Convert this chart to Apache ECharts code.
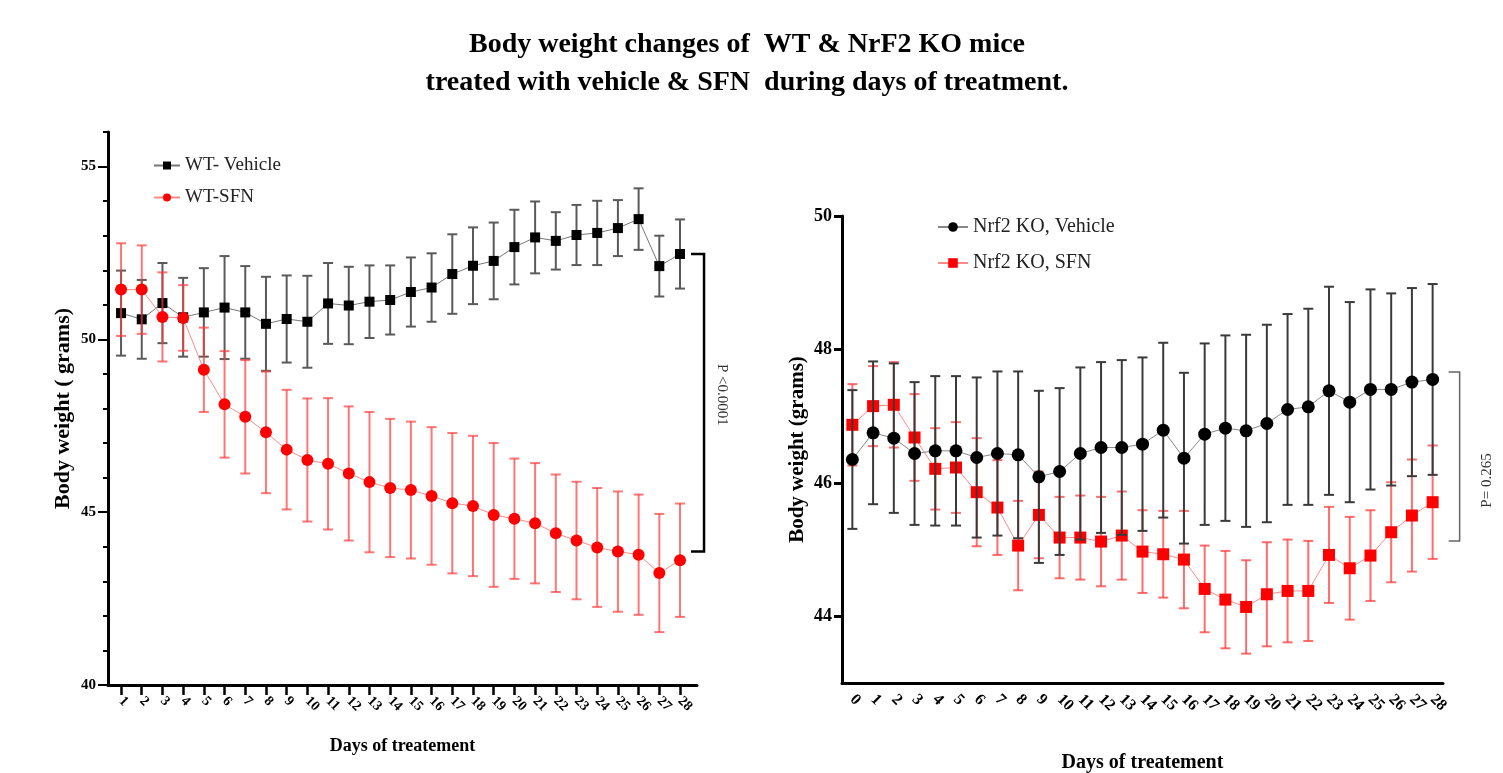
<!DOCTYPE html>
<html>
<head>
<meta charset="utf-8">
<script src="https://cdn.jsdelivr.net/npm/echarts@6/dist/echarts.min.js"></script>
<style>
  html, body { margin: 0; padding: 0; background: #fff; }
  #main { width: 1503px; height: 773px; }
</style>
</head>
<body>
<div id="main"></div>
<script>
// 左图: WT 小鼠 (第1-28天)
var daysWT = [1,2,3,4,5,6,7,8,9,10,11,12,13,14,15,16,17,18,19,20,21,22,23,24,25,26,27,28];
var wtVehicleMean = [50.76,50.58,51.05,50.64,50.78,50.92,50.78,50.45,50.59,50.51,51.04,50.98,51.09,51.14,51.37,51.50,51.89,52.13,52.27,52.67,52.95,52.85,53.02,53.08,53.22,53.48,52.12,52.47];
var wtVehicleSd   = [1.23,1.14,1.16,1.14,1.28,1.49,1.34,1.36,1.26,1.33,1.17,1.12,1.05,1.00,1.00,0.99,1.15,1.11,1.11,1.08,1.04,0.83,0.87,0.93,0.81,0.89,0.88,1.00];
var wtSfnMean = [51.44,51.44,50.65,50.62,49.12,48.12,47.76,47.31,46.81,46.51,46.40,46.12,45.87,45.70,45.64,45.47,45.26,45.18,44.92,44.81,44.68,44.39,44.18,43.98,43.86,43.77,43.24,43.61];
var wtSfnSd   = [1.34,1.28,1.29,0.95,1.22,1.54,1.64,1.76,1.73,1.78,1.90,1.94,2.03,2.00,1.98,1.99,2.03,2.03,2.08,1.74,1.74,1.70,1.70,1.72,1.74,1.74,1.71,1.64];

// 右图: Nrf2 KO 小鼠 (第0-28天)
var daysKO = [0,1,2,3,4,5,6,7,8,9,10,11,12,13,14,15,16,17,18,19,20,21,22,23,24,25,26,27,28];
var koVehicleMean = [46.35,46.75,46.67,46.44,46.48,46.48,46.38,46.44,46.42,46.09,46.17,46.44,46.53,46.53,46.58,46.79,46.37,46.73,46.82,46.78,46.89,47.10,47.14,47.38,47.21,47.40,47.40,47.51,47.55];
var koVehicleSd   = [1.04,1.07,1.12,1.07,1.12,1.12,1.20,1.23,1.25,1.29,1.25,1.29,1.28,1.31,1.30,1.31,1.28,1.36,1.39,1.44,1.48,1.43,1.47,1.56,1.50,1.50,1.44,1.41,1.43];
var koSfnMean = [46.87,47.15,47.17,46.68,46.21,46.23,45.86,45.63,45.06,45.52,45.18,45.18,45.12,45.21,44.97,44.93,44.85,44.41,44.25,44.14,44.33,44.38,44.38,44.92,44.72,44.91,45.26,45.51,45.71];
var koSfnSd   = [0.61,0.60,0.64,0.65,0.61,0.68,0.81,0.71,0.67,0.65,0.61,0.63,0.67,0.66,0.62,0.65,0.73,0.65,0.73,0.70,0.78,0.77,0.75,0.72,0.77,0.68,0.75,0.84,0.85];

// y 轴刻度
var wtMajorTicks = [40,45,50,55];
var wtMinorTicks = [40,41,42,43,44,45,46,47,48,49,50,51,52,53,54,55,56];
var koTicks = [44,46,48,50];

// P 值标注 (括号上下端, 数据单位)
var wtBracket = [52.47, 43.86];
var koBracket = [47.66, 45.13];
var wtPText = 'P <0.0001';
var koPText = 'P= 0.265';

var serif = "'Liberation Serif', 'Times New Roman', serif";

function pairs(days, vals) {
	var out = [];
	for (var i = 0; i < days.length; i++) out.push([days[i], vals[i]]);
	return out;
}
function errData(days, mean, sd) {
	var out = [];
	for (var i = 0; i < days.length; i++) out.push([days[i], mean[i] - sd[i], mean[i] + sd[i]]);
	return out;
}
function errorBars(color, width) {
	return function (params, api) {
		var lo = api.coord([api.value(0), api.value(1)]);
		var hi = api.coord([api.value(0), api.value(2)]);
		var hw = 5;
		var st = { stroke: color, lineWidth: width };
		return {
			type: 'group',
			children: [
				{ type: 'line', shape: { x1: lo[0], y1: lo[1], x2: hi[0], y2: hi[1] }, style: st },
				{ type: 'line', shape: { x1: lo[0] - hw, y1: lo[1], x2: lo[0] + hw, y2: lo[1] }, style: st },
				{ type: 'line', shape: { x1: hi[0] - hw, y1: hi[1], x2: hi[0] + hw, y2: hi[1] }, style: st }
			]
		};
	};
}

var axisFont = { color: '#000', fontFamily: serif, fontWeight: 'bold', showMinLabel: true, showMaxLabel: true };

var myChart = echarts.init(document.getElementById('main'));
myChart.setOption({
	animation: false,
	backgroundColor: '#fff',
	title: {
		text: 'Body weight changes of  WT & NrF2 KO mice\ntreated with vehicle & SFN  during days of treatment.',
		left: 742, top: 21, textAlign: 'center',
		textStyle: { fontFamily: serif, fontWeight: 'bold', fontSize: 28, lineHeight: 38, color: '#000' }
	},
	legend: [
		{
			data: ['WT- Vehicle', 'WT-SFN'],
			orient: 'vertical', left: 148, top: 151, itemGap: 13,
			itemWidth: 26, itemHeight: 10,
			textStyle: { fontFamily: serif, fontSize: 19, color: '#222' }
		},
		{
			data: ['Nrf2 KO, Vehicle', 'Nrf2 KO, SFN'],
			orient: 'vertical', left: 932, top: 212, itemGap: 16,
			itemWidth: 30, itemHeight: 12,
			textStyle: { fontFamily: serif, fontSize: 20, color: '#222' }
		}
	],
	grid: [
		{ left: 108, top: 132, width: 589, height: 553, outerBoundsMode: 'none' },
		{ left: 842, top: 216, width: 601, height: 467, outerBoundsMode: 'none' }
	],
	xAxis: [
		{
			type: 'value', gridIndex: 0, min: 0.37, max: 28.82,
			name: 'Days of treatement', nameLocation: 'middle', nameGap: 52,
			nameTextStyle: { fontFamily: serif, fontWeight: 'bold', fontSize: 18, color: '#000' },
			axisLine: { lineStyle: { color: '#000', width: 3 } },
			axisTick: { customValues: daysWT, length: 10, lineStyle: { color: '#000', width: 2.5 } },
			axisLabel: Object.assign({ customValues: daysWT, rotate: -45, fontSize: 14, margin: 14 }, axisFont),
			splitLine: { show: false }
		},
		{
			type: 'category', gridIndex: 1, data: daysKO, boundaryGap: true,
			name: 'Days of treatement', nameLocation: 'middle', nameGap: 70,
			nameTextStyle: { fontFamily: serif, fontWeight: 'bold', fontSize: 20, color: '#000' },
			axisLine: { lineStyle: { color: '#000', width: 3 } },
			axisTick: { alignWithLabel: true, interval: 0, length: 10, lineStyle: { color: '#000', width: 3 } },
			axisLabel: Object.assign({ interval: 0, rotate: -45, fontSize: 16, margin: 14 }, axisFont),
			splitLine: { show: false }
		}
	],
	yAxis: [
		{
			type: 'value', gridIndex: 0, min: 40, max: 56,
			name: 'Body weight ( grams)', nameLocation: 'middle', nameGap: 34,
			nameTextStyle: { fontFamily: serif, fontWeight: 'bold', fontSize: 22, color: '#000' },
			axisLine: { show: true, lineStyle: { color: '#000', width: 3 } },
			axisTick: { show: true, customValues: wtMajorTicks, length: 10, lineStyle: { color: '#000', width: 2 } },
			axisLabel: Object.assign({ customValues: wtMajorTicks, fontSize: 15, margin: 12 }, axisFont),
			splitLine: { show: false }
		},
		{
			type: 'value', gridIndex: 0, min: 40, max: 56, position: 'left',
			axisLine: { show: false },
			axisTick: { show: true, customValues: wtMinorTicks, length: 5, lineStyle: { color: '#000', width: 2 } },
			axisLabel: { show: false },
			splitLine: { show: false }
		},
		{
			type: 'value', gridIndex: 1, min: 43, max: 50,
			name: 'Body weight (grams)', nameLocation: 'middle', nameGap: 34,
			nameTextStyle: { fontFamily: serif, fontWeight: 'bold', fontSize: 21, color: '#000' },
			axisLine: { show: true, lineStyle: { color: '#000', width: 3 } },
			axisTick: { show: true, customValues: koTicks, length: 8, lineStyle: { color: '#000', width: 3 } },
			axisLabel: Object.assign({ customValues: koTicks, fontSize: 18, margin: 10 }, axisFont),
			splitLine: { show: false }
		}
	],
	series: [
		{
			type: 'custom', xAxisIndex: 0, yAxisIndex: 0, z: 2, silent: true,
			renderItem: errorBars('#5a5a5a', 2),
			data: errData(daysWT, wtVehicleMean, wtVehicleSd)
		},
		{
			name: 'WT- Vehicle', type: 'line', xAxisIndex: 0, yAxisIndex: 0, z: 3,
			symbol: 'rect', symbolSize: 10,
			itemStyle: { color: '#000' },
			lineStyle: { color: '#777', width: 1 },
			data: pairs(daysWT, wtVehicleMean)
		},
		{
			type: 'custom', xAxisIndex: 0, yAxisIndex: 0, z: 4, silent: true,
			renderItem: errorBars('rgba(255,60,60,0.7)', 2),
			data: errData(daysWT, wtSfnMean, wtSfnSd)
		},
		{
			name: 'WT-SFN', type: 'line', xAxisIndex: 0, yAxisIndex: 0, z: 5,
			symbol: 'circle', symbolSize: 12,
			itemStyle: { color: '#ff0000' },
			lineStyle: { color: '#ff8a8a', width: 1 },
			data: pairs(daysWT, wtSfnMean)
		},
		{
			type: 'custom', xAxisIndex: 1, yAxisIndex: 2, z: 2, silent: true,
			renderItem: errorBars('rgba(255,60,60,0.75)', 2),
			data: errData(daysKO, koSfnMean, koSfnSd)
		},
		{
			name: 'Nrf2 KO, SFN', type: 'line', xAxisIndex: 1, yAxisIndex: 2, z: 3,
			symbol: 'rect', symbolSize: 12,
			itemStyle: { color: '#ff0000' },
			lineStyle: { color: '#ff8a8a', width: 1 },
			data: pairs(daysKO, koSfnMean)
		},
		{
			type: 'custom', xAxisIndex: 1, yAxisIndex: 2, z: 4, silent: true,
			renderItem: errorBars('#3a3a3a', 2),
			data: errData(daysKO, koVehicleMean, koVehicleSd)
		},
		{
			name: 'Nrf2 KO, Vehicle', type: 'line', xAxisIndex: 1, yAxisIndex: 2, z: 5,
			symbol: 'circle', symbolSize: 13,
			itemStyle: { color: '#000' },
			lineStyle: { color: '#888', width: 1 },
			data: pairs(daysKO, koVehicleMean)
		}
	]
});

// P 值括号, 位置由坐标换算
function bracket(gridIndex, day, vals, x1off, x2off, text, textOff, textDy, rot, stroke, lw) {
	var top = myChart.convertToPixel({ gridIndex: gridIndex }, [day, vals[0]]);
	var bot = myChart.convertToPixel({ gridIndex: gridIndex }, [day, vals[1]]);
	var xa = top[0] + x1off, xb = top[0] + x2off;
	return [
		{
			type: 'polyline',
			shape: { points: [[xa, top[1]], [xb, top[1]], [xb, bot[1]], [xa, bot[1]]] },
			style: { stroke: stroke, lineWidth: lw, fill: null }
		},
		{
			type: 'text', x: xb + textOff, y: (top[1] + bot[1]) / 2 + textDy, rotation: rot,
			style: { text: text, fill: '#333', font: '15px ' + serif, align: 'center', verticalAlign: 'middle' }
		}
	];
}
myChart.setOption({
	graphic: bracket(0, 28, wtBracket, 11, 24, wtPText, 18, -8, -Math.PI / 2, '#000', 2.5)
		.concat(bracket(1, 28, koBracket, 16, 27, koPText, 27, 24, Math.PI / 2, '#666', 1.5))
});
</script>
</body>
</html>
